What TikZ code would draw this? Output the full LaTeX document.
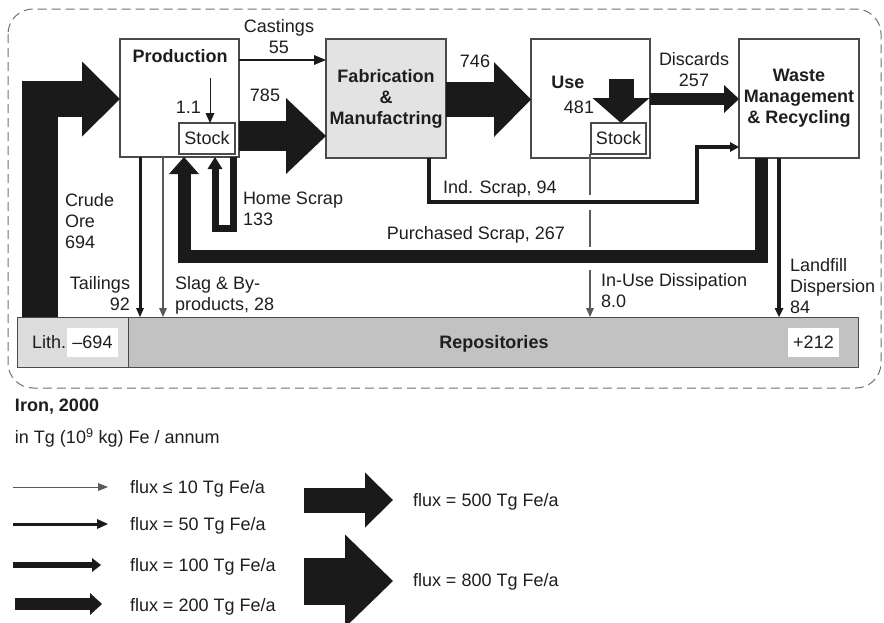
\documentclass[tikz,border=0pt]{standalone}
\usepackage{fontspec}
\setmainfont{Liberation Sans}
\usetikzlibrary{arrows.meta}
\definecolor{txt}{HTML}{1E1E1E}
\definecolor{bord}{HTML}{4A4A4A}
\definecolor{flowc}{HTML}{1A1A1A}
\definecolor{thinc}{HTML}{5A5A5A}
\definecolor{fabfill}{HTML}{E3E3E3}
\definecolor{lithfill}{HTML}{DCDCDC}
\definecolor{repofill}{HTML}{C2C2C2}
\definecolor{framec}{HTML}{707070}
\newcommand\dfont{\fontsize{18}{21}\selectfont}
\begin{document}
\begin{tikzpicture}[x=1pt,y=-1pt,
  every node/.style={font=\dfont, text=txt, inner sep=0pt, outer sep=0pt},
  box/.style={draw=bord, line width=1.3pt, fill=white, anchor=north west},
  lbl/.style={align=left, anchor=north west},
  fl/.style n args={3}{draw=flowc, line width=#1, line join=miter, -{Triangle[length=#3, width=#2, line width=0pt]}},
  thinfl/.style={draw=thinc, line width=1.1pt, -{Triangle[length=9pt, width=8pt, line width=0pt]}},
]
\useasboundingbox (0,0) rectangle (884,622);
% frame
\draw[draw=framec, line width=1pt, dash pattern=on 9pt off 5pt, rounded corners=25pt] (8,9) rectangle (881,388);

% boxes
\node[box, minimum width=119pt, minimum height=118pt] (prod) at (120,39) {};
\node[box, fill=fabfill, minimum width=120pt, minimum height=119pt, align=center, font=\dfont\bfseries] (fab) at (326,39) {Fabrication\\\&\\Manufactring};
\node[box, minimum width=119pt, minimum height=119pt] (use) at (531,39) {};
\node[box, minimum width=120pt, minimum height=119pt, align=center, font=\dfont\bfseries] (waste) at (739,39) {Waste\\Management\\\& Recycling};
\node[box, line width=1.1pt, minimum width=56pt, minimum height=31pt] (pstock) at (179,123) {Stock};
\node[box, line width=1.1pt, minimum width=55pt, minimum height=31pt] (ustock) at (591,123) {Stock};

\node[box, fill=lithfill, line width=1pt, minimum width=111pt, minimum height=50pt] (lith) at (17,317) {};
\node[box, fill=repofill, line width=1pt, minimum width=730pt, minimum height=50pt] (repo) at (128,317) {};
\node[fill=white, minimum width=51pt, minimum height=29pt] (lithval) at (92.5,342.5) {–694};
\node[fill=white, minimum width=51pt, minimum height=29pt] (repoval) at (813.5,342.5) {+212};
\node[anchor=west] (lithlbl) at (32,342.5) {Lith.};
\node[anchor=north, font=\dfont\bfseries] (repolbl) at (494,335.5) {Repositories};

% box titles
\node[anchor=north, font=\dfont\bfseries] (prodlbl) at (180,49.5) {Production};
\node[anchor=north, font=\dfont\bfseries] (uselbl) at (568,76.5) {Use};
\node[anchor=north] (usenum) at (579,100.5) {481};

% free ends
\coordinate (s11) at (210,78);
\coordinate (sus) at (621,79);

% dissipation (broken thin line)
\draw[draw=thinc, line width=1.1pt] (590,0 |- ustock.south) -- (590,195);
\draw[draw=thinc, line width=1.1pt] (590,210) -- (590,247);
\draw[thinfl] (590,270) -- (590,0 |- repo.north);

% flows
\draw[fl={36pt}{75pt}{38pt}] (39.5,0 |- lith.north) |- (prod.west |- 0,99);
\draw[fl={2pt}{10pt}{12pt}] (prod.east |- 0,60) -- (fab.west |- 0,60);
\draw[fl={30pt}{76pt}{40pt}] (prod.east |- 0,136) -- (fab.west |- 0,136);
\draw[fl={35pt}{75pt}{37pt}] (fab.east |- 0,99.5) -- (use.west |- 0,99.5);
\draw[fl={12pt}{28pt}{15pt}] (use.east |- 0,99) -- (waste.west |- 0,99);
\draw[fl={25pt}{57pt}{25pt}] (sus) -- (sus |- ustock.north);
\draw[fl={1pt}{9pt}{10pt}] (s11) -- (s11 |- pstock.north);
\draw[fl={4pt}{10pt}{9pt}] (429,0 |- fab.south) |- (697,202) |- (waste.west |- 0,147);
\draw[fl={13pt}{30pt}{17pt}] (761,0 |- waste.south) |- (184,256.5) -- (184,0 |- prod.south);
\draw[fl={7pt}{15pt}{12pt}] (233.5,0 |- prod.south) |- (215,228.5) -- (215,0 |- prod.south);
\draw[fl={3pt}{8pt}{9pt}] (140,0 |- prod.south) -- (140,0 |- repo.north);
\draw[thinfl] (163,0 |- prod.south) -- (163,0 |- repo.north);
\draw[fl={3.5pt}{9pt}{9pt}] (779,0 |- waste.south) -- (779,0 |- repo.north);

% flow labels
\node[anchor=north, align=center] (lcast) at (279,19.5) {Castings\\55};
\node[anchor=north] (l785) at (265,88.5) {785};
\node[anchor=north] (l746) at (475,54.5) {746};
\node[anchor=north east] (l11) at (201,101.5) {1.1};
\node[anchor=north, align=center] (ldisc) at (694,52.5) {Discards\\257};
\node[lbl] (lind) at (443,180.5) {Ind. Scrap, 94};
\node[lbl] (lhome) at (243,191.5) {Home Scrap\\133};
\node[lbl] (lcrude) at (65,193.5) {Crude\\Ore\\694};
\node[anchor=north east] (lpur) at (565,226.5) {Purchased Scrap, 267};
\node[anchor=north east, align=right] (ltail) at (130,276.5) {Tailings\\92};
\node[lbl] (lslag) at (175,276.5) {Slag \& By-\\products, 28};
\node[lbl] (ldiss) at (601,273.5) {In-Use Dissipation\\8.0};
\node[lbl] (lland) at (790,258.5) {Landfill\\Dispersion\\84};

% legend
\node[lbl, font=\dfont\bfseries] (ltitle) at (15,398.5) {Iron, 2000};
\node[lbl] (lunit) at (15,428.5) {in Tg (10\textsuperscript{9} kg) Fe / annum};
\coordinate (g1s) at (13,487); \coordinate (g1e) at (108,487);
\coordinate (g2s) at (13,524); \coordinate (g2e) at (108,524);
\coordinate (g3s) at (13,565); \coordinate (g3e) at (101,565);
\coordinate (g4s) at (15,604); \coordinate (g4e) at (102,604);
\coordinate (g5s) at (304,500); \coordinate (g5e) at (393,500);
\coordinate (g6s) at (304,581); \coordinate (g6e) at (393,581);
\draw[draw=thinc, line width=1pt, -{Triangle[length=10pt, width=8pt, line width=0pt]}] (g1s) -- (g1e);
\draw[fl={3pt}{10pt}{11pt}] (g2s) -- (g2e);
\draw[fl={6pt}{14pt}{9pt}] (g3s) -- (g3e);
\draw[fl={12pt}{22pt}{12pt}] (g4s) -- (g4e);
\draw[fl={25pt}{55pt}{28pt}] (g5s) -- (g5e);
\draw[fl={47pt}{93pt}{48pt}] (g6s) -- (g6e);
\node[lbl] (lg1) at (130,480.5) {flux ≤ 10 Tg Fe/a};
\node[lbl] (lg2) at (130,517.5) {flux = 50 Tg Fe/a};
\node[lbl] (lg3) at (130,558.5) {flux = 100 Tg Fe/a};
\node[lbl] (lg4) at (130,598.5) {flux = 200 Tg Fe/a};
\node[lbl] (lg5) at (413,493.5) {flux = 500 Tg Fe/a};
\node[lbl] (lg6) at (413,573.5) {flux = 800 Tg Fe/a};
\end{tikzpicture}
\end{document}
